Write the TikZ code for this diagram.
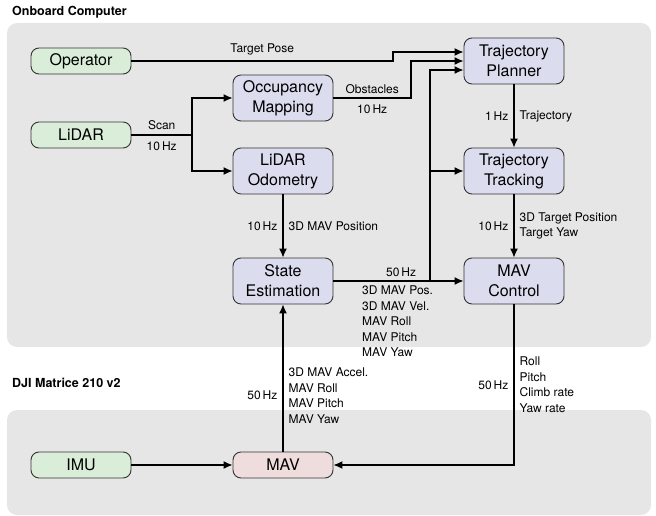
\documentclass[tikz,border=0pt]{standalone}
\usepackage{fontspec}
\setmainfont{TeX Gyre Heros}
\usetikzlibrary{arrows.meta}

\definecolor{panelgray}{HTML}{E6E6E6}
\definecolor{srcgreen}{HTML}{D9EDD9}
\definecolor{procblue}{HTML}{DCDCEF}
\definecolor{mavpink}{HTML}{EFDCDC}

\begin{document}
\begin{tikzpicture}[x=1pt,y=-1pt,
  panel/.style={fill=panelgray, rounded corners=10pt},
  paneltitle/.style={font=\fontsize{12.5}{14}\selectfont\bfseries, anchor=west, inner sep=0pt},
  block/.style={draw=black!80, line width=0.9pt, rounded corners=8pt, minimum width=100pt,
    align=center, inner sep=2pt, font=\fontsize{16}{20}\selectfont},
  src/.style={block, fill=srcgreen, minimum height=26pt},
  proc/.style={block, fill=procblue, minimum height=46pt},
  flow/.style={line width=1.3pt, -{Latex[length=9pt,width=8pt]}},
  lbl/.style={font=\fontsize{12}{15.5}\selectfont, align=left, inner sep=2pt}]
  \pgfmathsetmacro{\ColSrc}{81}
  \pgfmathsetmacro{\ColMid}{283}
  \pgfmathsetmacro{\ColRight}{514}
  \useasboundingbox (0,0) rectangle (656,516);

  \fill[panel] (7,23) rectangle (651,347);
  \fill[panel] (7,410) rectangle (651,515);
  \node[paneltitle] (titleboard) at (12,12) {Onboard Computer};
  \node[paneltitle] (titledji) at (12,383) {DJI Matrice 210 v2};

  \node[src] (operator) at (\ColSrc,61) {Operator};
  \node[src] (lidar) at (\ColSrc,135) {LiDAR};
  \node[proc] (occmap) at (\ColMid,98) {Occupancy\\Mapping};
  \node[proc] (lidarodom) at (\ColMid,171) {LiDAR\\Odometry};
  \node[proc] (stateest) at (\ColMid,281) {State\\Estimation};
  \node[proc] (planner) at (\ColRight,61) {Trajectory\\Planner};
  \node[proc] (tracking) at (\ColRight,171) {Trajectory\\Tracking};
  \node[proc] (mavctrl) at (\ColRight,281) {MAV\\Control};
  \node[src] (imu) at (\ColSrc,465) {IMU};
  \node[block, fill=mavpink, minimum height=26pt] (mav) at (\ColMid,465) {MAV};

  \coordinate (scansplit) at (192,135);
  \coordinate (statefork) at (430,281);

  \draw[flow] (operator.east) -- node[lbl, above=3pt] {Target Pose} (393,61)
    |- ([yshift=9pt]planner.west);
  \draw[flow] (occmap.east) -- node[lbl, above=2pt] {Obstacles} node[lbl, below=4pt] {10\,Hz} (411,98)
    |- (planner.west);
  \draw[line width=1.3pt] (lidar.east) -- node[lbl, above=3pt] {Scan} node[lbl, below=4pt] {10\,Hz} (scansplit);
  \draw[flow] (scansplit) |- (occmap.west);
  \draw[flow] (scansplit) |- (lidarodom.west);
  \draw[flow] (lidarodom) -- node[lbl, left=3pt] {10\,Hz} node[lbl, right=3pt] {3D MAV Position} (stateest);
  \draw[flow] (stateest.east) -- node[lbl, above=2pt, pos=0.52] {50\,Hz} (mavctrl.west);
  \node[lbl, anchor=north west] (statelist) at (360,284)
    {3D MAV Pos.\\3D MAV Vel.\\MAV Roll\\MAV Pitch\\MAV Yaw};
  \draw[flow] (statefork) |- ([yshift=-9pt]planner.west);
  \draw[flow] (statefork |- tracking.west) -- (tracking.west);
  \draw[flow] (planner) -- node[lbl, left=3pt] {1\,Hz} node[lbl, right=3pt] {Trajectory} (tracking);
  \draw[flow] (tracking) -- node[lbl, left=3pt] {10\,Hz}
    node[lbl, right=3pt] {3D Target Position\\Target Yaw} (mavctrl);
  \draw[flow] (mavctrl.south) |- node[lbl, left=3pt, pos=0.25] {50\,Hz}
    node[lbl, right=3pt, pos=0.25] {Roll\\Pitch\\Climb rate\\Yaw rate} (mav.east);
  \draw[flow] (mav) -- node[lbl, left=3pt, pos=0.38] {50\,Hz}
    node[lbl, right=3pt, pos=0.38] {3D MAV Accel.\\MAV Roll\\MAV Pitch\\MAV Yaw} (stateest);
  \draw[flow] (imu) -- (mav);
\end{tikzpicture}
\end{document}
